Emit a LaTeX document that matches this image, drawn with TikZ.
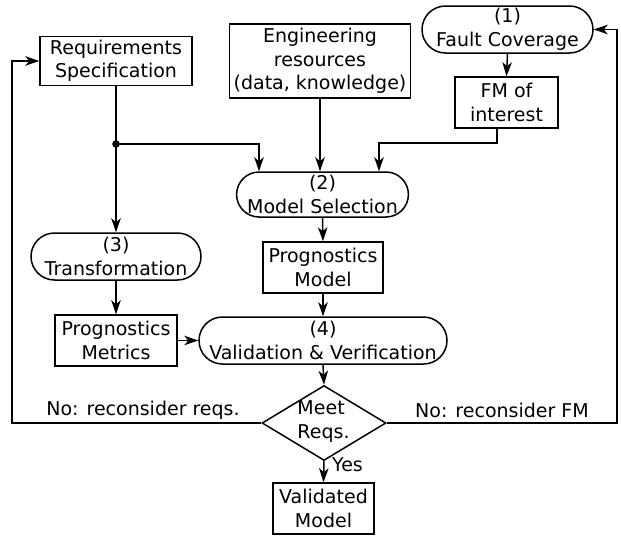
\documentclass[tikz,border=0pt]{standalone}
\usepackage{fontspec}
\setmainfont{DejaVu Sans}
\usetikzlibrary{arrows.meta,shapes.geometric,shapes.misc,calc}
\begin{document}
\begin{tikzpicture}[x=1pt,y=-1pt,
  every node/.style={font=\fontsize{19}{23.5}\selectfont, align=center, inner sep=0pt},
  box/.style={draw, line width=1.5pt, rectangle},
  pill/.style={draw, line width=1.5pt, rounded rectangle},
  conn/.style={line width=1.5pt},
  arr/.style={conn, -{Stealth[length=14pt,width=9.5pt,inset=4pt]}},
  lbl/.style={font=\fontsize{19}{23.5}\selectfont}
]
\useasboundingbox (0,0) rectangle (621,536);
\node[box, minimum width=152pt, minimum height=49pt] (req) at (116,61) {Requirements\\Specification};
\node[box, minimum width=181pt, minimum height=74pt] (eng) at (320,61) {Engineering\\resources\\(data, knowledge)};
\node[pill, minimum width=171pt, minimum height=47pt] (fc) at (507.5,29.5) {(1)\\Fault Coverage};
\node[box, minimum width=103pt, minimum height=51pt] (fm) at (506.5,102.5) {FM of\\interest};
\node[pill, minimum width=171pt, minimum height=45pt] (ms) at (322.5,194.5) {(2)\\Model Selection};
\node[pill, minimum width=170pt, minimum height=47pt] (tr) at (116,256.5) {(3)\\Transformation};
\node[box, minimum width=122pt, minimum height=51pt] (pmet) at (116,340.5) {Prognostics\\Metrics};
\node[box, minimum width=120pt, minimum height=51pt] (pmod) at (323,267.5) {Prognostics\\Model};
\node[pill, minimum width=248pt, minimum height=47pt] (vv) at (323,340.5) {(4)\\Validation \& Verification};
\node[draw, line width=1.5pt, diamond, aspect=1.65, minimum width=124pt, minimum height=75pt] (dia) at (324,423) {};
\node[align=left] (dtext) at (323.5,421.5) {Meet\\Reqs.};
\node[box, minimum width=101pt, minimum height=51pt] (val) at (323.5,508.5) {Validated\\Model};

\coordinate (dot) at (116,144);
\coordinate (fmout) at (497,128);
\coordinate (lft) at (12,423);
\coordinate (rgt) at (617,423);

\fill (dot) circle (3.8pt);
\draw[conn] (req.south) -- (dot);
\draw[arr] (dot) -- (tr.north);
\draw[arr] (dot) -| ($(ms.north)+(-63.5,0)$);
\draw[arr] (eng.south) -- (eng.south |- ms.north);
\draw[arr] (fc.south) -- (fm.north);
\draw[arr] (fmout) -- (497,143) -| ($(ms.north)+(56.5,0)$);
\draw[arr] (ms.south) -- (pmod.north);
\draw[arr] (pmod.south) -- (vv.north);
\draw[arr] (tr.south) -- (pmet.north);
\draw[arr] (pmet.east) -- (vv.west);
\draw[arr] (vv.south) -- (dia.north);
\draw[arr] (dia.south) -- (val.north);
\draw[arr] (dia.west) -- (lft) |- (req.west);
\draw[arr] (dia.east) -- (rgt) |- (fc.east);

\node[lbl] (lno1) at (143,410) {No: reconsider reqs.};
\node[lbl] (lno2) at (502,410) {No: reconsider FM};
\node[lbl, anchor=west] (lyes) at (332,465) {Yes};
\end{tikzpicture}
\end{document}
